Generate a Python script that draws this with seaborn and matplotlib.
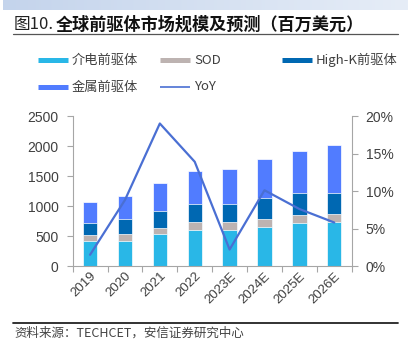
import numpy as np
import pandas as pd
import matplotlib
matplotlib.use("Agg")
import matplotlib.pyplot as plt
from matplotlib.lines import Line2D
from matplotlib.ticker import FixedLocator, PercentFormatter
import seaborn as sns

# Global precursor market size (USD million) and year-on-year growth
years = ["2019", "2020", "2021", "2022", "2023E", "2024E", "2025E", "2026E"]
dielectric = [417, 422, 539, 606, 606, 656, 710, 739]
sod = [94, 106, 100, 133, 122, 127, 134, 128]
high_k = [211, 261, 272, 300, 311, 356, 378, 355]
metal = [345, 372, 472, 539, 572, 639, 689, 800]
yoy = [1.5, 8.8, 19.0, 13.9, 2.2, 10.1, 7.6, 5.8]

series_names = ["介电前驱体", "SOD", "High-K前驱体", "金属前驱体"]
series_values = [dielectric, sod, high_k, metal]
colors = ["#29b7e7", "#bdb3b1", "#0068b2", "#517cff"]
line_color = "#4a6fd3"

sns.set_theme(style="white")
plt.rcParams["font.family"] = ["Liberation Sans", "Noto Sans CJK SC", "DejaVu Sans"]
cjk = ["Noto Sans CJK SC", "DejaVu Sans"]
grey = "#a6a6a6"
text_col = "#404040"

df = pd.DataFrame({"year": years})
stack = np.cumsum(np.array(series_values), axis=0)

fig = plt.figure(figsize=(4.08, 3.47), dpi=100)
ax = fig.add_axes([0.178, 0.2334, 0.684, 0.4323])

# stacked bars: draw cumulative totals from the top layer down
for i in range(len(series_names) - 1, -1, -1):
    df["v"] = stack[i]
    sns.barplot(data=df, x="year", y="v", order=years, color=colors[i],
                width=0.41, saturation=1, edgecolor="white", linewidth=0.5,
                ax=ax)

ax.set_xlim(-0.5, len(years) - 0.5)
ax.set_ylim(0, 2500)
ax.set_yticks(np.arange(0, 2501, 500))
ax.set_xlabel("")
ax.set_ylabel("")

ax2 = ax.twinx()
sns.lineplot(x=np.arange(len(years)), y=yoy, color=line_color, linewidth=1.6,
             ax=ax2)
ax2.set_ylim(0, 20)
ax2.set_yticks(np.arange(0, 21, 5))
ax2.yaxis.set_major_formatter(PercentFormatter(decimals=0))
ax2.set_xlim(-0.5, len(years) - 0.5)

for a in (ax, ax2):
    a.spines["top"].set_visible(False)
    for s in ("left", "right", "bottom"):
        a.spines[s].set_color(grey)
        a.spines[s].set_linewidth(0.8)
ax.spines["right"].set_visible(False)
ax2.spines["left"].set_visible(False)
ax2.spines["bottom"].set_visible(False)

ax.tick_params(axis="y", left=True, length=4, width=0.8, color=grey,
               labelsize=10, labelcolor=text_col, pad=6)
ax2.tick_params(axis="y", right=True, length=4, width=0.8, color=grey,
                labelsize=10, labelcolor=text_col, pad=6)

# category boundaries as x ticks, labels centred under the bars
ax.xaxis.set_minor_locator(FixedLocator(np.arange(-0.5, len(years), 1.0)))
ax.tick_params(axis="x", which="minor", bottom=True, length=4, width=0.8,
               color=grey)
ax.tick_params(axis="x", which="major", bottom=False, length=0, pad=3)
ax.set_xticks(np.arange(len(years)))
ax.set_xticklabels(years, rotation=45, ha="right", va="top",
                   rotation_mode="anchor", fontsize=9.5, color=text_col)

# header band
band = fig.add_axes([0.008, 0.971, 0.992, 0.029])
grad = np.linspace(0, 1, 256).reshape(1, -1)
c0 = np.array([196, 212, 236]) / 255
c1 = np.array([230, 237, 247]) / 255
img = c0[None, None, :] * (1 - grad[..., None]) + c1[None, None, :] * grad[..., None]
band.imshow(img, aspect="auto", extent=[0, 1, 0, 1])
band.axis("off")

# title and rules
fig.text(14 / 408, 1 - 25 / 347, "图10.", fontsize=12, family=cjk,
         color="#222222", va="center", ha="left")
fig.text(56 / 408, 1 - 25 / 347, "全球前驱体市场规模及预测（百万美元）",
         fontsize=12.3, family=cjk, fontweight="bold", color="#111111",
         va="center", ha="left")
fig.add_artist(Line2D([13 / 408, 398 / 408], [1 - 33.5 / 347] * 2,
                      color="#555555", linewidth=0.9))
fig.add_artist(Line2D([13 / 408, 398 / 408], [1 - 323 / 347] * 2,
                      color="#222222", linewidth=1.3))
fig.text(14 / 408, 1 - 333 / 347, "资料来源：TECHCET，安信证券研究中心",
         fontsize=9, family=cjk, style="italic", color="#444444",
         va="center", ha="left")

# legend entries laid out in a 3 + 2 grid
entries = [
    (38, 60, colors[0], 3.6, series_names[0]),
    (160, 60, colors[1], 3.6, series_names[1]),
    (282, 60, colors[2], 3.6, series_names[2]),
    (38, 87, colors[3], 3.6, series_names[3]),
    (160, 87, line_color, 1.2, "YoY"),
]
for x0, y0, c, lw, name in entries:
    y = 1 - y0 / 347
    fig.add_artist(Line2D([x0 / 408, (x0 + 30) / 408], [y, y], color=c,
                          linewidth=lw, solid_capstyle="butt"))
    fig.text((x0 + 34) / 408, y, name, fontsize=9.5, family=cjk,
             color=text_col, va="center", ha="left")

fig.savefig("out.png", dpi=100)
